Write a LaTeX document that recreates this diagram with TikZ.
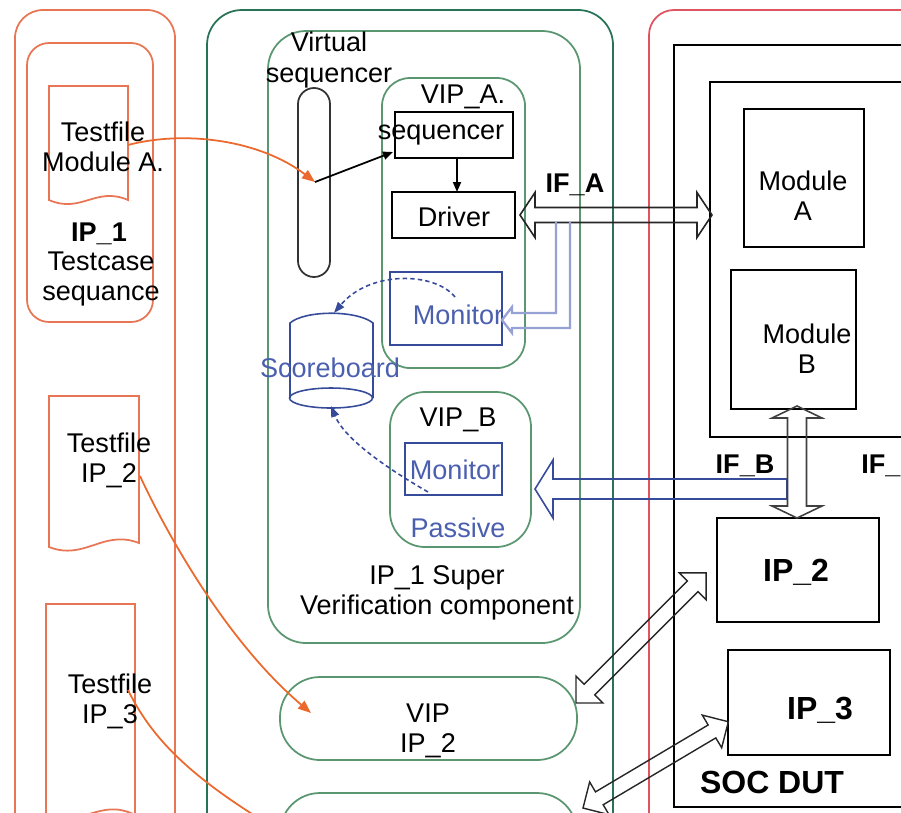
\documentclass[tikz,border=0pt]{standalone}
\usepackage{fontspec}
\setmainfont{Liberation Sans}
\usetikzlibrary{fit,calc,arrows.meta}
\definecolor{orngC}{RGB}{232,118,84}
\definecolor{orngA}{RGB}{235,105,45}
\definecolor{grnC}{RGB}{40,115,85}
\definecolor{grnL}{RGB}{90,150,112}
\definecolor{redC}{RGB}{222,85,95}
\definecolor{bluC}{RGB}{55,75,155}
\definecolor{bluT}{RGB}{75,95,175}
\definecolor{lavC}{RGB}{150,162,212}
% fat hollow double arrow: length, shaft half width, head half width, head length
\newcommand\fatDouble[4]{(0,0) -- (#4,#3) -- (#4,#2) -- ({#1-#4},#2) -- ({#1-#4},#3) -- (#1,0) -- ({#1-#4},-#3) -- ({#1-#4},-#2) -- (#4,-#2) -- (#4,-#3) -- cycle}
\newcommand\fatSingle[4]{(0,#2) -- ({#1-#4},#2) -- ({#1-#4},#3) -- (#1,0) -- ({#1-#4},-#3) -- ({#1-#4},-#2) -- (0,-#2) -- cycle}
\begin{document}
\begin{tikzpicture}[x=0.02cm,y=-0.02cm,
  frame/.style={draw, inner sep=0pt, outer sep=0pt, line width=1pt},
  txt/.style={inner sep=0pt, align=center, font=\fontsize{15.4}{17.1}\selectfont},
  btxt/.style={inner sep=0pt, align=center, font=\fontsize{15.4}{17.1}\selectfont\bfseries},
  bigtxt/.style={inner sep=0pt, align=center, font=\fontsize{18.2}{20}\selectfont\bfseries},
  oarrow/.style={orngA, line width=1pt, -{Triangle[length=0.26cm,width=0.2cm]}},
  karrow/.style={black, line width=1pt, -{Triangle[length=0.2cm,width=0.16cm]}},
  barrow/.style={bluC, line width=0.9pt, dash pattern=on 2.5pt off 1.8pt, -{Triangle[length=0.22cm,width=0.16cm]}},
  fatarrow/.style={line width=0.9pt, line join=miter},
  docshape/.style={orngC, line width=1pt}
]
\useasboundingbox (0,0) rectangle (901,812);
\clip (0,0) rectangle (901,812);

% ---------- left orange column ----------
\node[frame, draw=orngC, rounded corners=0.56cm, fit={(15,10)(175,880)}] (tcol) {};
\node[frame, draw=orngC, rounded corners=0.44cm, fit={(27,43)(153,322)}] (ip1seq) {};
\draw[docshape] (49,86) -- (128,86) -- (128,200) .. controls (96,186) and (81,214) .. (49,200) -- cycle;
\draw[docshape] (49,396) -- (139,396) -- (139,543) .. controls (103,529) and (85,561) .. (49,547) -- cycle;
\draw[docshape] (46,604) -- (135,604) -- (135,815) .. controls (100,797) and (82,829) .. (46,815) -- cycle;
\node[txt] (tfAt) at (103,147) {Testfile\\Module A.};
\node[btxt] (ip1t) at (99,234) {IP\_1};
\node[txt] (tcst) at (101,279) {Testcase\\sequance};
\node[txt] (tf2t) at (109,460) {Testfile\\IP\_2};
\node[txt] (tf3t) at (110,701) {Testfile\\IP\_3};

% ---------- green column ----------
\node[frame, draw=grnC, rounded corners=0.7cm, fit={(207,10)(613,880)}] (gcol) {};
\node[frame, draw=grnL, rounded corners=0.76cm, fit={(268,31)(580,643)}] (super) {};
\node[frame, draw=black!80, rounded corners=0.32cm, fit={(298,88)(330,277)}] (vseq) {};
\node[txt] (vseqt) at (329,60) {Virtual\\sequencer};

\node[frame, draw=grnL, rounded corners=0.56cm, fit={(382,78)(525,368)}] (vipa) {};
\node[txt] (vipat) at (463,97) {VIP\_A.};
\node[frame, fit={(395,112)(513,158)}] (seq) {};
\node[txt] (seqt) at (441,135) {sequencer};
\node[frame, fit={(392,192)(515,238)}] (drv) {};
\node[txt] (drvt) at (454,217) {Driver};
\node[frame, draw=bluC, fit={(390,272)(502,345)}] (mona) {};
\node[txt, text=bluT] (monat) at (458,315) {Monitor};

% scoreboard
\coordinate (sb) at (331,360);
\draw[bluC, line width=0.9pt] (290,398) -- (290,323) .. controls (305,310) and (357,310) .. (373,323) -- (373,398);
\draw[bluC, line width=0.9pt] (331,398) ellipse [x radius=0.83cm, y radius=0.2cm];
\node[txt, text=bluT] (sbt) at (330,368) {Scoreboard};

\node[frame, draw=grnL, rounded corners=0.7cm, fit={(390,392)(531,547)}] (vipb) {};
\node[txt] (vipbt) at (458,420) {VIP\_B};
\node[frame, draw=bluC, fit={(405,443)(502,495)}] (monb) {};
\node[txt, text=bluT] (monbt) at (455,470) {Monitor};
\node[txt, text=bluT] (passt) at (458,528) {Passive};
\node[txt] (supert) at (437,593) {IP\_1 Super\\Verification component};

\node[frame, draw=grnL, rounded corners=0.8cm, fit={(280,677)(577,760)}] (vip2) {};
\node[txt] (vip2t) at (428,731) {VIP\\IP\_2};
\node[frame, draw=grnL, rounded corners=0.8cm, fit={(280,793)(577,900)}] (vip3) {};

% ---------- red / DUT column ----------
\node[frame, draw=redC, rounded corners=0.5cm, fit={(649,10)(960,880)}] (rcol) {};
\node[frame, fit={(674,45)(960,807)}] (dut) {};
\node[frame, fit={(710,82)(960,437)}] (sub) {};
\node[frame, fit={(744,109)(864,247)}] (moda) {};
\node[txt] (modat) at (803,196) {Module\\A};
\node[frame, fit={(731,270)(856,409)}] (modb) {};
\node[txt] (modbt) at (807,349) {Module\\B};
\node[frame, fit={(717,518)(879,622)}] (ip2) {};
\node[bigtxt] (ip2t) at (796,572) {IP\_2};
\node[frame, fit={(728,650)(890,755)}] (ip3) {};
\node[bigtxt] (ip3t) at (820,710) {IP\_3};
\node[bigtxt] (dutt) at (772,782) {SOC DUT};

% ---------- interface arrows ----------
\coordinate (ifaL) at (520,215);
\coordinate (ifaR) at (712,215);
\draw[fatarrow, black!85, shift={(ifaL)}] \fatDouble{192}{7.5}{22.5}{15};
\node[btxt] (ifat) at (575,185) {IF\_A};

\coordinate (ifbT) at (787,489);
\coordinate (ifbH) at (535,489);
\draw[fatarrow, bluC, shift={(ifbT)}, rotate=180] \fatSingle{252}{10}{29}{18};
\node[btxt] (ifbt) at (745,466) {IF\_B};
\node[btxt, anchor=west] (ifct) at (861,466) {IF\_};

\coordinate (vabB) at (797,518);
\coordinate (vabT) at (797,406);
\draw[fatarrow, black!75, shift={(vabB)}, rotate=90] \fatDouble{112}{9.5}{25}{12};

\coordinate (d2a) at (576,703);
\coordinate (d2b) at (706,573);
\draw[fatarrow, black!85, line width=0.8pt, shift={(d2a)}, rotate=45] \fatDouble{184}{7.5}{19}{19};
\coordinate (d3a) at (583,808);
\coordinate (d3b) at (728,722);
\draw[fatarrow, black!85, line width=0.8pt, shift={(d3a)}, rotate=30.7] \fatDouble{169}{7.5}{19}{19};

% IF_A tap to VIP_A monitor
\coordinate (ifa1) at (556,222);
\coordinate (ifa2) at (570,222);
\coordinate (monain) at (502,320);
\draw[lavC, line width=1.3pt, line join=miter] (ifa1) |- (512,313) -- (512,307) -- (monain) -- (512,333) -- (512,328) -| (ifa2);

% ---------- sequencing arrows ----------
\coordinate (vsp) at (315,182);
\coordinate (tfA) at (128,145);
\coordinate (tf2) at (140,476);
\coordinate (tf3) at (128,690);
\coordinate (vip2in) at (311,713);
\coordinate (vip3in) at (295,840);
\draw[oarrow] (tfA) .. controls (185,130) and (260,140) .. (vsp);
\draw[oarrow] (tf2) .. controls (165,530) and (225,640) .. (vip2in);
\draw[orngA, line width=1pt] (tf3) .. controls (155,745) and (200,785) .. (vip3in);
\draw[karrow] (vsp) -- ($(seq.south west)+(-2,-6)$);
\draw[karrow] (seq.south -| 457,0) -- (drv.north -| 457,0);

% monitor -> scoreboard
\coordinate (mA1) at (455,297);
\coordinate (sbTop) at (334,313);
\coordinate (mB1) at (428,492);
\coordinate (sbBot) at (331,406);
\draw[barrow] (mA1) .. controls (435,272) and (370,270) .. (sbTop);
\draw[barrow] (mB1) .. controls (390,470) and (345,440) .. (sbBot);
\end{tikzpicture}
\end{document}
